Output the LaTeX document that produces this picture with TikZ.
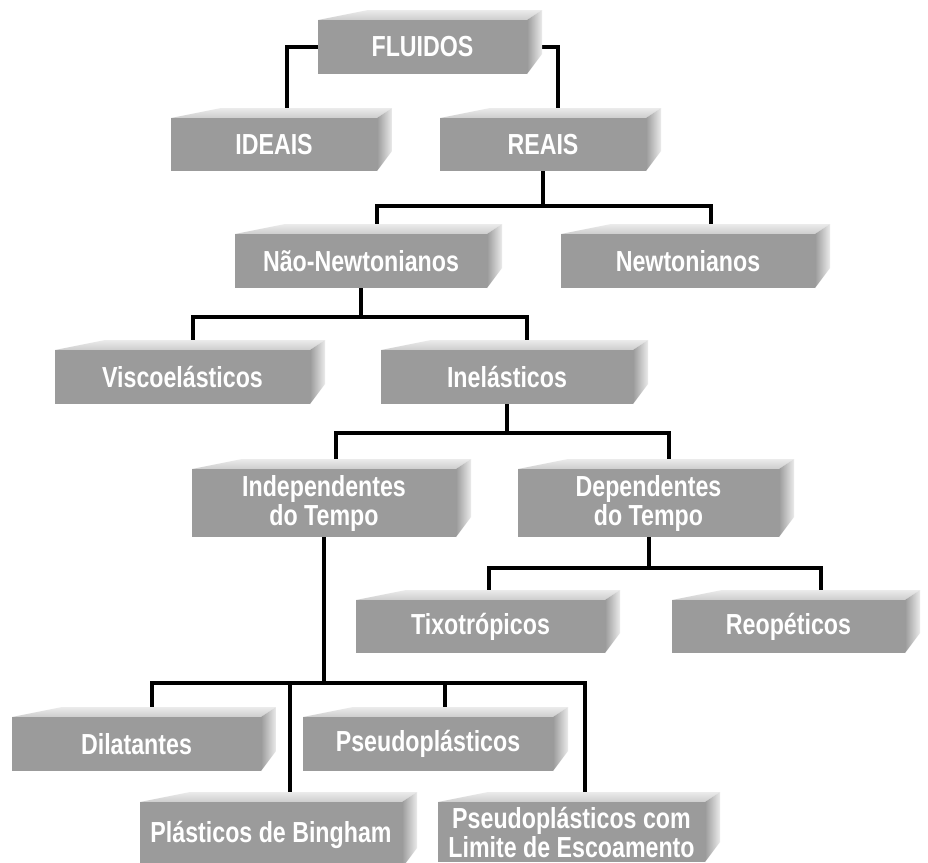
\documentclass[tikz,border=0pt]{standalone}
\usepackage{fontspec}
\usepackage{tikz}
\usetikzlibrary{backgrounds, calc}
\newfontfamily\caixafont{Liberation Sans}[FakeStretch=0.8]
\definecolor{frente}{RGB}{155, 155, 155}
\definecolor{topo}{RGB}{205, 205, 205}
\definecolor{lado}{RGB}{235, 235, 235}

% caixa 3D: nome, x1, y1, x2, y2, texto
\newcommand{\caixa}[6]{%
  \shade[top color=lado, bottom color=topo] (#2, #3) -- ({#2+50}, {#3-10}) -- ({#4+15}, {#3-10}) -- (#4, #3) -- cycle;
  \shade[left color=frente, right color=lado] (#4, #3) -- ({#4+15}, {#3-10}) -- ({#4+15}, {#5-20}) -- (#4, #5) -- cycle;
  \fill[frente] (#2, #3) rectangle (#4, #5);
  \node[rotulo, minimum width={(#4-#2)*0.5pt}, minimum height={(#5-#3)*0.5pt}] (#1) at ({(#2+#4)/2}, {(#3+#5)/2}) {#6};
}

\begin{document}
\begin{tikzpicture}[x=0.5pt, y=-0.5pt,
  liga/.style={line width=2pt},
  rotulo/.style={inner sep=0pt, text=white, align=center,
    font=\caixafont\bfseries\fontsize{14.5}{14.5}\selectfont}]

  \useasboundingbox (0, 0) rectangle (928, 863);

  \caixa{fluidos}{318}{20}{527}{74}{FLUIDOS}
  \caixa{ideais}{171}{118}{377}{171}{IDEAIS}
  \caixa{reais}{440}{118}{646}{171}{REAIS}

  \caixa{naonewt}{235}{234}{487}{288}{Não-Newtonianos}
  \caixa{newt}{561}{234}{815}{288}{Newtonianos}

  \caixa{visco}{55}{350}{310}{404}{Viscoelásticos}
  \caixa{inel}{381}{350}{633}{404}{Inelásticos}

  \caixa{indep}{192}{469}{456}{537}{Independentes\\do Tempo}
  \caixa{dep}{518}{469}{779}{537}{Dependentes\\do Tempo}

  \caixa{tixo}{356}{600}{605}{653}{Tixotrópicos}
  \caixa{reop}{672}{600}{905}{653}{Reopéticos}

  \caixa{dilat}{12}{717}{261}{771}{Dilatantes}
  \caixa{pseudo}{303}{717}{553}{771}{Pseudoplásticos}

  \caixa{bingham}{140}{802}{402}{868}{Plásticos de Bingham}
  \caixa{psl}{438}{802}{705}{862}{Pseudoplásticos com\\Limite de Escoamento}

  \begin{pgfonlayer}{background}
    \fill[white] (0, 0) rectangle (928, 863);

    \draw[liga] (fluidos.west) -| ($(ideais.north)+(13, 0)$);
    \draw[liga] (fluidos.east) -| ($(reais.north)+(15, 0)$);

    \draw[liga] (reais.south) -- ++(0, 35) coordinate (b1);
    \draw[liga] ($(naonewt.north)+(16, 0)$) |- (b1) -| ($(newt.north)+(23, 0)$);

    \draw[liga] (naonewt.south) -- ++(0, 29) coordinate (b2);
    \draw[liga] ($(visco.north)+(10, 0)$) |- (b2) -| ($(inel.north)+(20, 0)$);

    \draw[liga] (inel.south) -- ++(0, 29) coordinate (b3);
    \draw[liga] ($(indep.north)+(12, 0)$) |- (b3) -| ($(dep.north)+(20, 0)$);

    \draw[liga] (dep.south) -- ++(0, 31) coordinate (b4);
    \draw[liga] ($(tixo.north)+(8, 0)$) |- (b4) -| ($(reop.north)+(32, 0)$);

    \draw[liga] (indep.south) -- ++(0, 146) coordinate (b5);
    \draw[liga] ($(dilat.north)+(15, 0)$) |- (b5) -| ($(psl.north)+(13, 0)$);
    \draw[liga] ($(pseudo.north)+(17, 0)$) |- (b5);
    \draw[liga] ($(bingham.north)+(19, 0)$) |- (b5);
  \end{pgfonlayer}

\end{tikzpicture}
\end{document}
